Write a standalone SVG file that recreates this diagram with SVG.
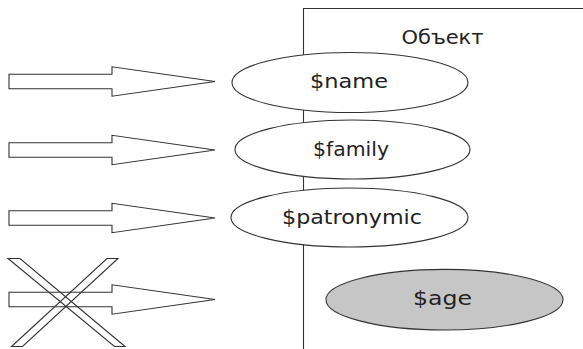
<svg xmlns="http://www.w3.org/2000/svg" width="583" height="349" viewBox="0 0 583 349">
<style>
.ln{fill:none;stroke:#333;stroke-width:1.1}
.arr{fill:#fff;stroke:#333;stroke-width:1.1;stroke-linejoin:miter}
.el{fill:#fff;stroke:#333;stroke-width:1.1}
.gray{fill:#c6c6c6}
.t{font-family:"DejaVu Sans","Liberation Sans",sans-serif;font-size:20px;fill:#222}
</style>
<rect x="0" y="0" width="583" height="349" fill="#fff"/>
<g id="object-frame">
<path class="ln" d="M303.5,349 V8.5 H583"/>
<text class="t" x="401.5" y="43.5" textLength="82" lengthAdjust="spacingAndGlyphs">Объект</text>
</g>
<g id="connectors">
<polygon class="arr" points="9,74.2 112,74.2 112,66.8 215,81.5 112,96.2 112,88.8 9,88.8"/>
<polygon class="arr" points="9,142.7 112,142.7 112,135.3 215,150 112,164.7 112,157.3 9,157.3"/>
<polygon class="arr" points="9,210.7 112,210.7 112,203.3 215,218 112,232.7 112,225.3 9,225.3"/>
<polygon class="arr" points="9,292.2 112,292.2 112,284.8 215,299.5 112,314.2 112,306.8 9,306.8"/>
<g id="cross">
<polygon class="ln" points="8,258.5 20,258.5 125,346.5 114.5,346.5"/>
<polygon class="ln" points="107,258.5 118,258.5 22.5,346.5 11.5,346.5"/>
</g>
</g>
<g id="name">
<ellipse class="el" cx="350" cy="82.5" rx="118" ry="30"/>
<text class="t" x="310" y="88" textLength="78" lengthAdjust="spacingAndGlyphs">$name</text>
</g>
<g id="family">
<ellipse class="el" cx="352.5" cy="149.5" rx="117.5" ry="29.5"/>
<text class="t" x="313" y="156" textLength="76" lengthAdjust="spacingAndGlyphs">$family</text>
</g>
<g id="patronymic">
<ellipse class="el" cx="349.5" cy="217.5" rx="118.5" ry="29.5"/>
<text class="t" x="282" y="224" textLength="140" lengthAdjust="spacingAndGlyphs">$patronymic</text>
</g>
<g id="age">
<ellipse class="el gray" cx="444.5" cy="299.7" rx="118.5" ry="30.3"/>
<text class="t" x="413" y="305" textLength="59" lengthAdjust="spacingAndGlyphs">$age</text>
</g>
</svg>
